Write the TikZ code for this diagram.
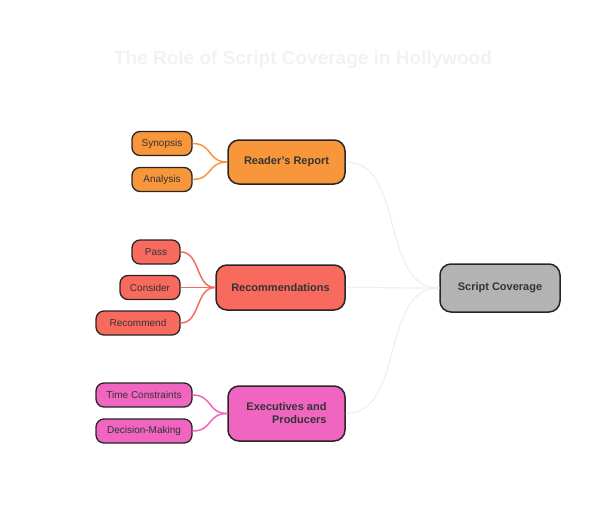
\documentclass[tikz,border=0pt]{standalone}
\usepackage{fontspec}
\setmainfont{Liberation Sans}
\definecolor{orangeC}{HTML}{F7963A}
\definecolor{redC}{HTML}{F96A5E}
\definecolor{pinkC}{HTML}{F065C0}
\definecolor{grayC}{HTML}{B3B3B3}
\definecolor{titleC}{HTML}{F2F2F4}
\definecolor{lineC}{HTML}{EFEFEF}
\begin{document}
\begin{tikzpicture}[x=1pt,y=-1pt,
  leaf/.style={rectangle, rounded corners=8pt, draw=black!85, line width=1.3pt, minimum height=24pt, inner sep=0pt, font=\fontsize{10}{12}\selectfont, text=black!80},
  main/.style={rectangle, rounded corners=11pt, draw=black!85, line width=1.5pt, minimum width=117pt, inner sep=0pt, font=\bfseries\fontsize{11}{13}\selectfont, text=black!80},
  link/.style={line width=1.5pt},
  hub/.style={line width=1.2pt, draw=lineC}]
\useasboundingbox (0,0) rectangle (608,528);
\node[font=\bfseries\fontsize{19}{22}\selectfont, text=titleC] (title) at (303,60) {The Role of Script Coverage in Hollywood};
% centre
\node[main, fill=grayC, minimum width=120pt, minimum height=48pt] (cov) at (500,288) {Script Coverage};
% branches
\node[main, fill=orangeC, minimum height=44pt] (rep) at (286.5,162) {Reader's Report};
\node[main, fill=redC, minimum width=129pt, minimum height=45pt] (rec) at (280.5,287.5) {Recommendations};
\node[main, fill=pinkC, minimum height=55pt, align=right] (exe) at (286.5,413.5) {Executives and\\Producers};
% leaves
\node[leaf, fill=orangeC, minimum width=60pt] (syn) at (162,143.5) {Synopsis};
\node[leaf, fill=orangeC, minimum width=60pt] (ana) at (162,179.5) {Analysis};
\node[leaf, fill=redC, minimum width=48pt] (pas) at (156,252) {Pass};
\node[leaf, fill=redC, minimum width=60pt] (con) at (150,287.5) {Consider};
\node[leaf, fill=redC, minimum width=84pt] (rcm) at (138,323) {Recommend};
\node[leaf, fill=pinkC, minimum width=96pt] (tim) at (144,395) {Time Constraints};
\node[leaf, fill=pinkC, minimum width=96pt] (dec) at (144,431) {Decision-Making};
% links
\foreach \a/\b/\c in {syn/rep/orangeC, ana/rep/orangeC, pas/rec/redC, con/rec/redC, rcm/rec/redC, tim/exe/pinkC, dec/exe/pinkC}
  \draw[link, draw=\c] (\a.east) .. controls +(20,0) and +(-20,0) .. (\b.west);
\foreach \a in {rep, rec, exe}
  \draw[hub] (\a.east) .. controls +(60,0) and +(-60,0) .. (cov.west);
\end{tikzpicture}
\end{document}
